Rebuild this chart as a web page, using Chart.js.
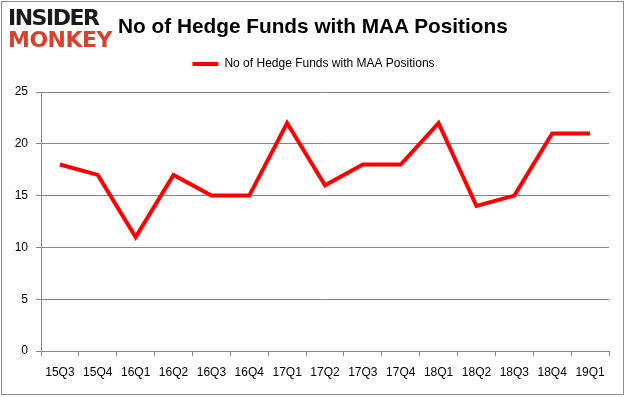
<!DOCTYPE html>
<html>
<head>
<meta charset="utf-8">
<script src="https://cdn.jsdelivr.net/npm/chart.js@4/dist/chart.umd.min.js"></script>
<style>
  html, body { margin: 0; padding: 0; background: #fff; }
  #wrap { position: relative; width: 626px; height: 397px; }
  #frame { position: absolute; left: 1px; top: 1px; width: 621px; height: 392px; border: 1px solid #8c8c8c; pointer-events: none; }
  #logo1, #logo2 { position: absolute; left: 8px; font-family: "DejaVu Sans", sans-serif; font-weight: bold; }
  #logo1 { top: 5px; font-size: 22px; color: #1a1a1a; letter-spacing: -1.5px; }
  #logo2 { top: 27px; font-size: 22px; color: #d9412c; letter-spacing: -0.5px; }
  #title { position: absolute; left: 118px; top: 14px; font-family: "Liberation Sans", sans-serif; font-weight: bold; font-size: 20.8px; color: #000; }
  canvas { position: absolute; left: 0; top: 0; }
</style>
</head>
<body>
<div id="wrap">
  <canvas id="chart" width="626" height="397"></canvas>
  <div id="logo1">INSIDER</div>
  <div id="logo2">MONKEY</div>
  <div id="title">No of Hedge Funds with MAA Positions</div>
  <div id="frame"></div>
</div>
<script>
// quarters and number of hedge funds holding MAA
const quarters = ['15Q3', '15Q4', '16Q1', '16Q2', '16Q3', '16Q4', '17Q1', '17Q2', '17Q3', '17Q4', '18Q1', '18Q2', '18Q3', '18Q4', '19Q1'];
const fundCounts = [18, 17, 11, 17, 15, 15, 22, 16, 18, 18, 22, 14, 15, 21, 21];
const yTicks = [0, 5, 10, 15, 20, 25];

const axisFont = { family: 'Liberation Sans', size: 12 };

// extra space below the legend, and centre it on the whole page
const legendGap = {
  id: 'legendGap',
  beforeInit(chart) {
    const legend = chart.legend;
    const fit = legend.fit;
    legend.fit = function () {
      fit.bind(legend)();
      this.height += 12;
    };
    const draw = legend.draw;
    legend.draw = function () {
      const c = chart.ctx;
      c.save();
      c.translate(9, 0);
      draw.apply(legend, arguments);
      c.restore();
    };
  }
};

const ctx = document.getElementById('chart').getContext('2d');
const chart = new Chart(ctx, {
  type: 'line',
  data: {
    labels: quarters,
    datasets: [{
      label: 'No of Hedge Funds with MAA Positions',
      data: fundCounts,
      borderColor: '#ff0000',
      backgroundColor: '#ff0000',
      borderWidth: 4,
      pointRadius: 0,
      tension: 0,
      fill: false
    }]
  },
  options: {
    responsive: false,
    animation: false,
    layout: { padding: { top: 48, right: 17, bottom: 10, left: 0 } },
    scales: {
      x: {
        offset: true,
        grid: { display: true, drawOnChartArea: false, drawTicks: true, tickLength: 5, color: '#868686', offset: true },
        border: { color: '#868686' },
        ticks: { color: '#000', font: axisFont, padding: 9, maxRotation: 0, autoSkip: false },
        afterFit: (s) => { s.height = 36; }
      },
      y: {
        min: 0,
        max: 25,
        afterBuildTicks: (s) => { s.ticks = yTicks.map(v => ({ value: v })); },
        grid: { color: '#868686', tickLength: 5 },
        border: { color: '#868686' },
        ticks: { color: '#000', font: axisFont, padding: 8 },
        afterFit: (s) => { s.width = 41; }
      }
    },
    plugins: {
      legend: {
        display: true,
        position: 'top',
        labels: {
          color: '#000',
          font: axisFont,
          usePointStyle: true,
          pointStyle: 'line',
          pointStyleWidth: 26,
          padding: 10
        }
      },
      tooltip: { enabled: false }
    }
  },
  plugins: [legendGap]
});
</script>
</body>
</html>
